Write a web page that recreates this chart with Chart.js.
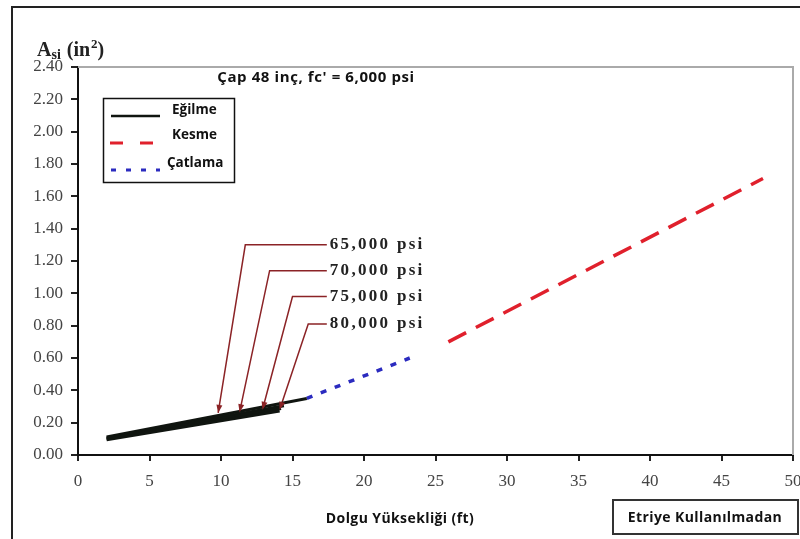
<!DOCTYPE html>
<html>
<head>
<meta charset="utf-8">
<script src="https://cdn.jsdelivr.net/npm/chart.js@4"></script>
<style>
  html, body { margin: 0; padding: 0; background: #fff; }
  #wrap { width: 800px; height: 539px; }
</style>
</head>
<body>
<div id="wrap"><canvas id="c" width="800" height="539"></canvas></div>
<script>
// ---- Data ----
const xTicks = [0, 5, 10, 15, 20, 25, 30, 35, 40, 45, 50];
const yTicks = [0.0, 0.2, 0.4, 0.6, 0.8, 1.0, 1.2, 1.4, 1.6, 1.8, 2.0, 2.2, 2.4];

// Eğilme (flexure) lines for different steel grades
const egilme65 = [{x: 2, y: 0.112}, {x: 16.0, y: 0.350}];
const egilme70 = [{x: 2, y: 0.106}, {x: 14.4, y: 0.305}];
const egilme75 = [{x: 2, y: 0.100}, {x: 14.2, y: 0.288}];
const egilme80 = [{x: 2, y: 0.094}, {x: 14.1, y: 0.272}];

// Çatlama (cracking) and Kesme (shear)
const catlama = [{x: 16.0, y: 0.350}, {x: 23.2, y: 0.600}];
const kesme = [{x: 25.9, y: 0.700}, {x: 47.9, y: 1.710}];

// Leader lines for steel grade labels: label end, elbow, arrow tip
const gradeLabels = ['65,000 psi', '70,000 psi', '75,000 psi', '80,000 psi'];
const leader65 = [{x: 17.4, y: 1.300}, {x: 11.7, y: 1.300}, {x: 9.8, y: 0.260}];
const leader70 = [{x: 17.4, y: 1.140}, {x: 13.4, y: 1.140}, {x: 11.3, y: 0.265}];
const leader75 = [{x: 17.4, y: 0.980}, {x: 15.0, y: 0.980}, {x: 12.9, y: 0.280}];
const leader80 = [{x: 17.4, y: 0.810}, {x: 16.1, y: 0.810}, {x: 14.1, y: 0.280}];
const leaders = [leader65, leader70, leader75, leader80];

const chartTitle = "Çap 48 inç, fc' = 6,000 psi";
const xTitle = 'Dolgu Yüksekliği (ft)';
const noteText = 'Etriye Kullanılmadan';
const legendLabels = ['Eğilme', 'Kesme', 'Çatlama'];

const RED = '#e0202c', BLUE = '#2b2bbf', BLACK = '#101510', LEADER = '#8b2326';
const SANS = '"Open Sans", "DejaVu Sans", sans-serif';
const SERIF = '"Liberation Serif", "DejaVu Serif", serif';

function line(data, color, width, dash, extra) {
  return Object.assign({
    data, borderColor: color, backgroundColor: color, borderWidth: width,
    borderDash: dash || [], showLine: true, pointRadius: 0, pointHoverRadius: 0,
    tension: 0, fill: false
  }, extra || {});
}

const datasets = [
  line(egilme80, BLACK, 3),
  line(egilme75, BLACK, 3),
  line(egilme70, BLACK, 3),
  line(egilme65, BLACK, 3),
  line(catlama, BLUE, 3.5, [6, 9], {borderCapStyle: 'butt'}),
  line(kesme, RED, 3.5, [20, 11], {borderCapStyle: 'butt'}),
];
leaders.forEach((d, i) => datasets.push(line(d, LEADER, 1.5, [], {isLeader: true, leaderIdx: i})));

const decor = {
  id: 'decor',
  afterDatasetsDraw(chart) {
    const ctx = chart.ctx;
    const ca = chart.chartArea;
    ctx.save();

    // Outer frame
    ctx.strokeStyle = '#222';
    ctx.lineWidth = 2;
    ctx.beginPath();
    ctx.moveTo(12, 539); ctx.lineTo(12, 7); ctx.lineTo(800, 7);
    ctx.stroke();

    // Plot area gray border (top and right)
    ctx.strokeStyle = '#aaaaaa';
    ctx.lineWidth = 2;
    ctx.beginPath();
    ctx.moveTo(ca.left, ca.top); ctx.lineTo(ca.right, ca.top); ctx.lineTo(ca.right, ca.bottom);
    ctx.stroke();

    // Arrowheads and labels on leaders
    chart.data.datasets.forEach((ds, di) => {
      if (!ds.isLeader) return;
      const pts = chart.getDatasetMeta(di).data;
      const a = pts[pts.length - 2], b = pts[pts.length - 1];
      const ang = Math.atan2(b.y - a.y, b.x - a.x);
      ctx.fillStyle = LEADER;
      ctx.beginPath();
      ctx.moveTo(b.x, b.y);
      ctx.lineTo(b.x - 8 * Math.cos(ang) + 3 * Math.sin(ang), b.y - 8 * Math.sin(ang) - 3 * Math.cos(ang));
      ctx.lineTo(b.x - 8 * Math.cos(ang) - 3 * Math.sin(ang), b.y - 8 * Math.sin(ang) + 3 * Math.cos(ang));
      ctx.closePath();
      ctx.fill();
      const p0 = pts[0];
      ctx.fillStyle = '#222';
      ctx.font = 'bold 17px ' + SERIF;
      ctx.letterSpacing = '2.3px';
      ctx.textAlign = 'left';
      ctx.textBaseline = 'middle';
      ctx.fillText(gradeLabels[ds.leaderIdx], p0.x + 3, p0.y);
      ctx.letterSpacing = '0px';
    });

    // Title
    ctx.fillStyle = '#111';
    ctx.font = 'bold 15px ' + SANS;
    ctx.letterSpacing = '0.6px';
    ctx.textAlign = 'center';
    ctx.textBaseline = 'middle';
    ctx.fillText(chartTitle, 316, 78);
    ctx.letterSpacing = '0px';

    // Y axis title: A_si (in^2)
    ctx.textAlign = 'left';
    ctx.textBaseline = 'alphabetic';
    ctx.fillStyle = '#222';
    let x = 37, base = 56;
    ctx.font = 'bold 20px ' + SERIF;
    ctx.fillText('A', x, base); x += ctx.measureText('A').width;
    ctx.font = 'bold 14px ' + SERIF;
    ctx.fillText('si', x, base + 3); x += ctx.measureText('si').width + 6;
    ctx.font = 'bold 20px ' + SERIF;
    ctx.fillText('(in', x, base); x += ctx.measureText('(in').width + 1;
    ctx.font = 'bold 13px ' + SERIF;
    ctx.fillText('2', x, base - 8); x += ctx.measureText('2').width;
    ctx.font = 'bold 20px ' + SERIF;
    ctx.fillText(')', x, base);

    // Legend box
    ctx.strokeStyle = '#111';
    ctx.lineWidth = 1.5;
    ctx.strokeRect(103.5, 98.5, 131, 84);
    ctx.lineWidth = 2.5;
    ctx.strokeStyle = BLACK;
    ctx.setLineDash([]);
    ctx.beginPath(); ctx.moveTo(111, 116); ctx.lineTo(160, 116); ctx.stroke();
    ctx.strokeStyle = RED; ctx.lineWidth = 3;
    ctx.setLineDash([13, 17]);
    ctx.beginPath(); ctx.moveTo(110, 143); ctx.lineTo(160, 143); ctx.stroke();
    ctx.strokeStyle = BLUE; ctx.lineWidth = 3;
    ctx.setLineDash([5, 10]);
    ctx.beginPath(); ctx.moveTo(111, 170); ctx.lineTo(160, 170); ctx.stroke();
    ctx.setLineDash([]);
    ctx.fillStyle = '#111';
    ctx.font = 'bold 13.5px ' + SANS;
    ctx.textBaseline = 'middle';
    ctx.fillText(legendLabels[0], 172, 110);
    ctx.fillText(legendLabels[1], 172, 135);
    ctx.fillText(legendLabels[2], 167, 163);

    // X axis title
    ctx.textAlign = 'center';
    ctx.font = 'bold 14px ' + SANS;
    ctx.letterSpacing = '0.4px';
    ctx.fillText(xTitle, 400, 519);

    // Note box
    ctx.strokeStyle = '#333';
    ctx.lineWidth = 2;
    ctx.strokeRect(613, 500, 185, 34);
    ctx.fillText(noteText, 705, 518);
    ctx.letterSpacing = '0px';

    ctx.restore();
  }
};

new Chart(document.getElementById('c'), {
  type: 'scatter',
  data: { datasets },
  options: {
    responsive: false,
    animation: false,
    events: [],
    layout: { padding: { left: 0, right: 7, top: 67, bottom: 0 } },
    plugins: { legend: { display: false }, tooltip: { enabled: false }, title: { display: false } },
    scales: {
      x: {
        type: 'linear', min: 0, max: 50,
        afterBuildTicks: s => { s.ticks = xTicks.map(v => ({value: v})); },
        afterFit: s => { s.height = 84; s.paddingRight = 0; s.paddingLeft = 0; },
        grid: { drawOnChartArea: false, drawTicks: true, tickLength: 6, color: '#222', lineWidth: 2 },
        border: { display: true, color: '#111', width: 2 },
        ticks: { color: '#444', font: { family: SERIF, size: 17 }, padding: 10, maxRotation: 0 }
      },
      y: {
        type: 'linear', min: 0, max: 2.4,
        afterBuildTicks: s => { s.ticks = yTicks.map(v => ({value: v})); },
        afterFit: s => { s.width = 78; s.paddingTop = 0; s.paddingBottom = 0; },
        grid: { drawOnChartArea: false, drawTicks: true, tickLength: 7, color: '#222', lineWidth: 2 },
        border: { display: true, color: '#111', width: 2 },
        ticks: { color: '#444', font: { family: SERIF, size: 17 }, padding: 8,
                 callback: v => Number(v).toFixed(2) }
      }
    }
  },
  plugins: [decor]
});
</script>
</body>
</html>
